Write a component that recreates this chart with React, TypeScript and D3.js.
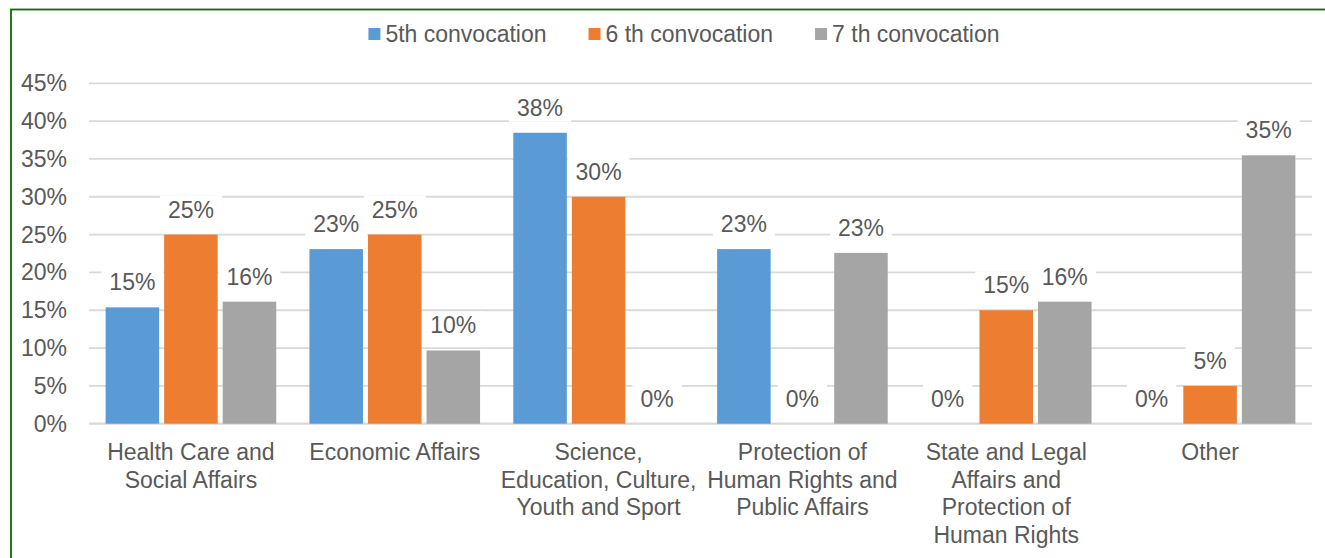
import React, { useEffect, useRef } from "react";
import * as d3 from "d3";

const categoryLines: string[][] = [
  ["Health Care and", "Social Affairs"],
  ["Economic Affairs"],
  ["Science,", "Education, Culture,", "Youth and Sport"],
  ["Protection of", "Human Rights and", "Public Affairs"],
  ["State and Legal", "Affairs and", "Protection of", "Human Rights"],
  ["Other"],
];
const categories = categoryLines.map((l) => l.join(" "));

const seriesNames = ["5th convocation", "6 th convocation", "7 th convocation"];
const seriesColors = ["#5B9BD5", "#ED7D31", "#A5A5A5"];

const fifth = [0.1538, 0.2308, 0.3846, 0.2308, 0, 0];
const sixth = [0.25, 0.25, 0.3, 0, 0.15, 0.05];
const seventh = [0.1613, 0.0968, 0, 0.2258, 0.1613, 0.3548];
const seriesValues = [fifth, sixth, seventh];

const yTicks = [0, 0.05, 0.1, 0.15, 0.2, 0.25, 0.3, 0.35, 0.4, 0.45];

const W = 1325;
const H = 558;
const FONT = "'Liberation Sans', Arial, sans-serif";
const TEXT = "#595959";

export default function App() {
  const ref = useRef<SVGSVGElement | null>(null);

  useEffect(() => {
    const svg = d3.select(ref.current);
    svg.selectAll("*").remove();

    const left = 89, right = 1312, top = 83.3, bottom = 423.7;

    // border
    svg.append("rect")
      .attr("x", 11).attr("y", 9.5)
      .attr("width", W + 20).attr("height", H + 20)
      .attr("fill", "white").attr("stroke", "#0b6b0b").attr("stroke-width", 1.8);

    const y = d3.scaleLinear().domain([0, 0.45]).range([bottom, top]);
    const x0 = d3.scaleBand<string>().domain(categories).range([left, right])
      .paddingInner(0.163).paddingOuter(0.0815);
    const x1 = d3.scaleBand<string>().domain(seriesNames).range([0, x0.bandwidth()])
      .paddingInner(0.0855).paddingOuter(0);
    const fmt = d3.format(".0%");

    // gridlines
    svg.append("g").selectAll("line").data(yTicks).join("line")
      .attr("x1", left).attr("x2", right)
      .attr("y1", (d) => y(d)).attr("y2", (d) => y(d))
      .attr("stroke", "#d9d9d9").attr("stroke-width", (d) => (d === 0 ? 2.2 : 1.8));

    // y tick labels
    svg.append("g").selectAll("text").data(yTicks).join("text")
      .attr("x", 67).attr("y", (d) => y(d) + 8)
      .attr("text-anchor", "end")
      .attr("font-family", FONT).attr("font-size", 23).attr("fill", TEXT)
      .text((d) => fmt(d));

    // bars
    seriesNames.forEach((s, si) => {
      const g = svg.append("g");
      g.selectAll("rect").data(seriesValues[si]).join("rect")
        .attr("x", (_d, i) => (x0(categories[i]) as number) + (x1(s) as number))
        .attr("width", x1.bandwidth())
        .attr("y", (d) => y(d))
        .attr("height", (d) => bottom - y(d))
        .attr("fill", seriesColors[si]);
    });

    // data labels
    seriesNames.forEach((s, si) => {
      seriesValues[si].forEach((v, i) => {
        const cx = (x0(categories[i]) as number) + (x1(s) as number) + x1.bandwidth() / 2;
        const by = y(v) - 17;
        const g = svg.append("g");
        const bg = g.append("rect");
        const t = g.append("text")
          .attr("x", cx).attr("y", by)
          .attr("text-anchor", "middle")
          .attr("font-family", FONT).attr("font-size", 23).attr("fill", TEXT)
          .text(fmt(v));
        const w = (t.node() as SVGTextElement).getComputedTextLength();
        bg.attr("x", cx - w / 2 - 8).attr("y", by - 22)
          .attr("width", w + 16).attr("height", 28)
          .attr("fill", "white");
      });
    });

    // category labels
    categoryLines.forEach((lines, i) => {
      const cx = (x0(categories[i]) as number) + x0.bandwidth() / 2;
      const t = svg.append("text")
        .attr("text-anchor", "middle")
        .attr("font-family", FONT).attr("font-size", 23).attr("fill", TEXT);
      lines.forEach((ln, li) => {
        t.append("tspan").attr("x", cx).attr("y", 460 + li * 27.5).text(ln);
      });
    });

    // legend
    const lg = svg.append("g");
    const items: { w: number; g: any }[] = [];
    seriesNames.forEach((s, si) => {
      const g = lg.append("g");
      g.append("rect").attr("x", 0).attr("y", 28).attr("width", 12).attr("height", 12)
        .attr("fill", seriesColors[si]);
      const t = g.append("text").attr("x", 17).attr("y", 42)
        .attr("font-family", FONT).attr("font-size", 23).attr("fill", TEXT).text(s);
      const w = 17 + (t.node() as SVGTextElement).getComputedTextLength();
      items.push({ w, g });
    });
    const gap = 42;
    const total = d3.sum(items, (d) => d.w) + gap * (items.length - 1);
    let xx = 684 - total / 2;
    items.forEach((it) => {
      it.g.attr("transform", `translate(${xx},0)`);
      xx += it.w + gap;
    });
  }, []);

  return (
    <svg
      ref={ref}
      width={W}
      height={H}
      style={{ position: "absolute", left: 0, top: 0, background: "white" }}
    />
  );
}
